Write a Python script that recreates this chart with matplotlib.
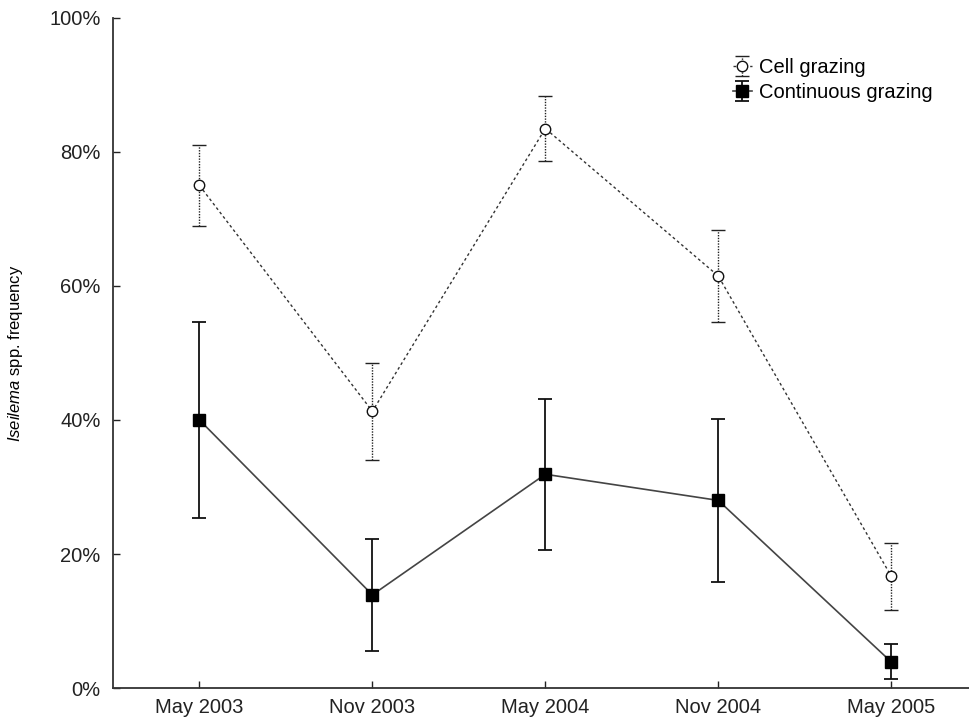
import matplotlib
matplotlib.use("Agg")
import matplotlib.pyplot as plt
from matplotlib.ticker import FuncFormatter

plt.rcParams['font.family'] = ['Liberation Sans', 'DejaVu Sans']
plt.rcParams['mathtext.fontset'] = 'custom'
plt.rcParams['mathtext.it'] = 'Liberation Sans:italic'
plt.rcParams['mathtext.rm'] = 'Liberation Sans'

dates = ["May 2003", "Nov 2003", "May 2004", "Nov 2004", "May 2005"]
cell = [75.0, 41.3, 83.5, 61.5, 16.7]
cell_err = [6.0, 7.2, 4.8, 6.8, 5.0]
cont = [40.0, 13.9, 31.9, 28.0, 3.9]
cont_err = [14.6, 8.4, 11.3, 12.2, 2.6]

fig = plt.figure(figsize=(9.69, 7.23), dpi=100)
ax = fig.add_axes([113/969, 35/723, (969-113)/969, 670/723])

x = list(range(len(dates)))

# cell grazing - open circles, dotted lines
l1, caps1, bars1 = ax.errorbar(x, cell, yerr=cell_err, fmt='o', ls=(0, (2, 2)),
                               color='#333333', mfc='white', mec='#111111', ms=7.5,
                               mew=1.0, ecolor='#222222', elinewidth=1.0,
                               capsize=5, capthick=1.0, lw=1.0, label='Cell grazing')
bars1[0].set_linestyle((0, (1, 1)))

l2, caps2, bars2 = ax.errorbar(x, cont, yerr=cont_err, fmt='s', ls='-',
                               color='#444444', mfc='black', mec='black', ms=8.5,
                               ecolor='#111111', elinewidth=1.3, capsize=5,
                               capthick=1.3, lw=1.2, label='Continuous grazing')

ax.set_xlim(-0.5, 4.45)
ax.set_ylim(0, 100)
ax.set_yticks([0, 20, 40, 60, 80, 100])
ax.yaxis.set_major_formatter(FuncFormatter(lambda v, p: "%d%%" % v))
ax.set_xticks(x)
ax.set_xticklabels(dates)
ax.tick_params(direction='in', length=5, width=1, labelsize=14.5, colors='#222222')
ax.tick_params(axis='y', pad=9)
ax.tick_params(axis='x', pad=7)
ax.spines['top'].set_visible(False)
ax.spines['right'].set_visible(False)
for s in ['left', 'bottom']:
    ax.spines[s].set_linewidth(1.3)
    ax.spines[s].set_color('#333333')

ax.set_ylabel(r"$\it{Iseilema}$ spp. frequency", fontsize=12)
ax.yaxis.set_label_coords(-0.103, 0.5)

leg = ax.legend(loc='upper left', bbox_to_anchor=(0.713, 0.955), frameon=False,
                fontsize=14.5, handlelength=0.9, handletextpad=0.35, labelspacing=0.3,
                borderpad=0)

fig.savefig("out.png", dpi=100)
